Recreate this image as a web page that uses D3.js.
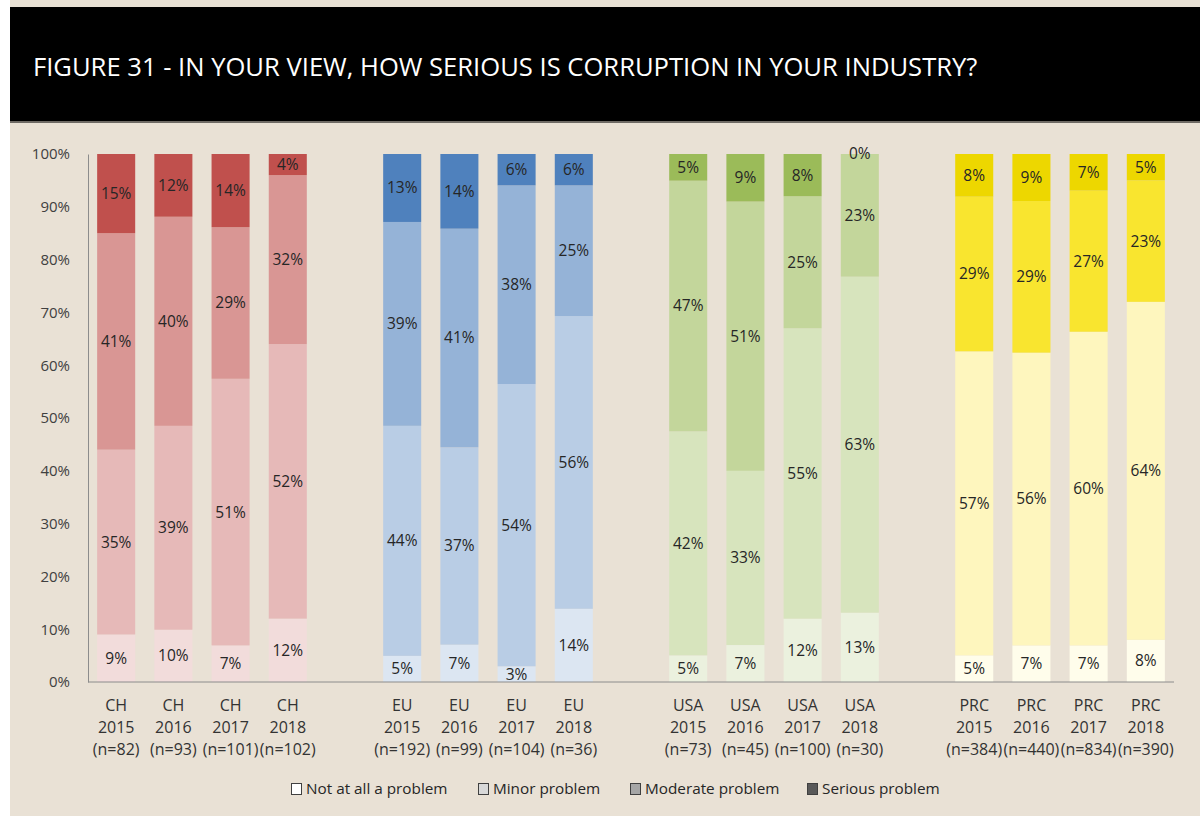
<!DOCTYPE html>
<html><head><meta charset="utf-8">
<script src="https://cdn.jsdelivr.net/npm/d3@7"></script>
<style>html,body{margin:0;padding:0;background:#fff;}svg{display:block;}</style>
</head><body>
<svg id="chart" width="1200" height="816"></svg>
<script>
const categories = ["CH 2015","CH 2016","CH 2017","CH 2018","EU 2015","EU 2016","EU 2017","EU 2018","USA 2015","USA 2016","USA 2017","USA 2018","PRC 2015","PRC 2016","PRC 2017","PRC 2018"];
const sampleSizes = ["(n=82)","(n=93)","(n=101)","(n=102)","(n=192)","(n=99)","(n=104)","(n=36)","(n=73)","(n=45)","(n=100)","(n=30)","(n=384)","(n=440)","(n=834)","(n=390)"];
const seriesNames = ["Not at all a problem","Minor problem","Moderate problem","Serious problem"];
const notAtAll = [9,10,7,12, 5,7,3,14, 5,7,12,13, 5,7,7,8];
const minor    = [35,39,51,52, 44,37,54,56, 42,33,55,63, 57,56,60,64];
const moderate = [41,40,29,32, 39,41,38,25, 47,51,25,23, 29,29,27,23];
const serious  = [15,12,14,4, 13,14,6,6, 5,9,8,0, 8,9,7,5];
const yTicks = [0,10,20,30,40,50,60,70,80,90,100];
const regionColors = {
  CH:  ["#F2DCDB","#E6B9B8","#D99694","#C0504D"],
  EU:  ["#DCE6F2","#B9CDE5","#95B3D7","#4F81BD"],
  USA: ["#EBF1DE","#D7E4BD","#C3D69B","#9BBB59"],
  PRC: ["#FFFDEB","#FEF6BE","#F9E52F","#EDD700"]
};
const legendColors = ["#FFFFFF","#D9D9D9","#A6A6A6","#595959"];

const svg = d3.select("#chart");
const W = 1200, H = 816;
svg.append("rect").attr("width",W).attr("height",H).attr("fill","#FFFFFF");
svg.append("rect").attr("x",10).attr("y",0).attr("width",W-10).attr("height",H).attr("fill","#E9E1D5");
svg.append("rect").attr("x",10).attr("y",7).attr("width",W-10).attr("height",115).attr("fill","#000000");
svg.append("rect").attr("x",10).attr("y",121).attr("width",W-10).attr("height",2).attr("fill","#6E6A64");
svg.append("text").attr("x",33).attr("y",76).attr("fill","#FFFFFF")
  .attr("font-family","'Open Sans', sans-serif").attr("font-size",25.6).attr("font-weight",400)
  .text("FIGURE 31 - IN YOUR VIEW, HOW SERIOUS IS CORRUPTION IN YOUR INDUSTRY?");

// slots with spacer between groups
const slots = [];
categories.forEach((c,i)=>{ slots.push(c); if (i%4===3 && i<categories.length-1) slots.push("gap"+i); });

const x = d3.scaleBand().domain(slots).range([88,1174]).paddingInner(0.335).paddingOuter(0.16);
const y = d3.scaleLinear().domain([0,100]).range([682,154]);

const data = categories.map((c,i)=>{
  const vals = [notAtAll[i],minor[i],moderate[i],serious[i]];
  const tot = d3.sum(vals);
  let acc = 0;
  const segs = vals.map((v,k)=>{ const s = {k, v, y0: acc/tot*100, y1: (acc+v)/tot*100}; acc+=v; return s; });
  return {c, region: c.split(" ")[0], year: c.split(" ")[1], n: sampleSizes[i], segs};
});

const fontF = "'Open Sans', sans-serif";
// y axis
const yAxis = svg.append("g").attr("transform","translate(88,0)")
  .call(d3.axisLeft(y).tickValues(yTicks).tickFormat(d=>d+"%").tickSize(0).tickPadding(18));
yAxis.select(".domain").attr("stroke","#8C8C8C");
yAxis.selectAll("text").attr("font-family",fontF).attr("font-size",15).attr("fill","#404040");

const g = svg.append("g");
data.forEach(d=>{
  const bx = x(d.c), bw = x.bandwidth();
  d.segs.forEach(s=>{
    g.append("rect").attr("x",bx).attr("width",bw)
      .attr("y",y(s.y1)).attr("height",y(s.y0)-y(s.y1))
      .attr("fill",regionColors[d.region][s.k]);
  });
  d.segs.forEach(s=>{
    g.append("text").attr("x",bx+bw/2).attr("y",y((s.y0+s.y1)/2)).attr("dy","0.35em")
      .attr("text-anchor","middle").attr("font-family",fontF).attr("font-size",15.5)
      .attr("fill","#262626").text(s.v+"%");
  });
});

// x axis baseline
svg.append("line").attr("x1",88).attr("x2",1174).attr("y1",682).attr("y2",682).attr("stroke","#8C8C8C");
data.forEach(d=>{
  const cx = x(d.c)+x.bandwidth()/2;
  const t = svg.append("text").attr("text-anchor","middle").attr("font-family",fontF).attr("font-size",16).attr("fill","#333333");
  [d.region,d.year,d.n].forEach((line,j)=>{
    t.append("tspan").attr("x",cx).attr("y",711+j*22).text(line);
  });
});

// legend
const legendX = [291,478,630,807];
seriesNames.forEach((name,i)=>{
  svg.append("rect").attr("x",legendX[i]+0.5).attr("y",783.5).attr("width",10).attr("height",11)
    .attr("fill",legendColors[i]).attr("stroke","#404040").attr("stroke-width",1);
  svg.append("text").attr("x",legendX[i]+15).attr("y",794).attr("font-family",fontF).attr("font-size",15.3)
    .attr("fill","#262626").text(name);
});
</script>
</body></html>
